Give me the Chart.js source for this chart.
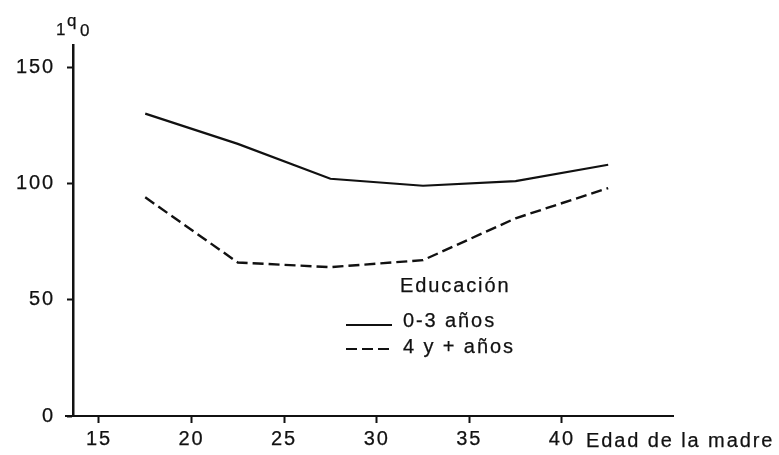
<!DOCTYPE html>
<html>
<head>
<meta charset="utf-8">
<script src="https://cdn.jsdelivr.net/npm/chart.js@4/dist/chart.umd.min.js"></script>
<style>
  html, body { margin: 0; padding: 0; background: #fff; }
  #wrap { width: 779px; height: 455px; }
</style>
</head>
<body>
<div id="wrap"><canvas id="c" width="779" height="455"></canvas></div>
<script>
// Mother's age group midpoints (years)
const ages = [17.5, 22.5, 27.5, 32.5, 37.5, 42.5];
// 1q0 by mother's education
const edu03 = [130, 117, 102, 99, 101, 108];
const edu4plus = [94, 66, 64, 67, 85, 98];
// Axis tick values
const xTicks = [15, 20, 25, 30, 35, 40];
const yTicks = [0, 50, 100, 150];

const seriesLabels = ['0-3 años', '4 y + años'];
const legendTitle = 'Educación';
const xTitle = 'Edad de la madre';

const INK = '#111';
const FONT = "'Liberation Sans', Arial, Helvetica, sans-serif";
const TRACK = '1.9px';
const STROKE = 0.25;
Chart.defaults.font.family = FONT;
Chart.defaults.font.size = 20;
Chart.defaults.color = INK;

// Wide tracking for all chart text
const spacing = {
  id: 'spacing',
  beforeLayout(chart) { chart.ctx.letterSpacing = TRACK; },
  beforeDraw(chart) { chart.ctx.letterSpacing = TRACK; }
};

function inkText(ctx, txt, x, y) {
  ctx.fillText(txt, x, y);
  ctx.strokeText(txt, x, y);
}

// Axis annotations and the hand-placed key
const annotations = {
  id: 'annotations',
  afterDraw(chart) {
    const ctx = chart.ctx;
    const ys = chart.scales.y;
    const y0 = ys.getPixelForValue(0);
    ctx.save();
    ctx.fillStyle = INK;
    ctx.strokeStyle = INK;

    // short overhang of the x axis to the left of the y axis
    ctx.lineWidth = 2;
    ctx.beginPath();
    ctx.moveTo(chart.chartArea.left - 8, y0);
    ctx.lineTo(chart.chartArea.left, y0);
    ctx.stroke();

    // y axis title: 1q0
    ctx.lineWidth = STROKE;
    ctx.letterSpacing = '0px';
    ctx.textBaseline = 'alphabetic';
    ctx.textAlign = 'left';
    ctx.font = '17px ' + FONT;
    inkText(ctx, '1', 56, 35);
    inkText(ctx, 'q', 67, 26);
    inkText(ctx, '0', 80, 36);

    // x axis title, right of the last tick
    ctx.letterSpacing = TRACK;
    ctx.font = '20px ' + FONT;
    inkText(ctx, xTitle, 586, 447);

    // key
    inkText(ctx, legendTitle, 400, 292);
    const ds = chart.data.datasets;
    const rows = [{ y: 325, ty: 327 }, { y: 349, ty: 353 }];
    rows.forEach((r, i) => {
      ctx.lineWidth = 2;
      ctx.setLineDash(ds[i].borderDash || []);
      ctx.beginPath();
      ctx.moveTo(346, r.y);
      ctx.lineTo(392, r.y);
      ctx.stroke();
      ctx.setLineDash([]);
      ctx.lineWidth = STROKE;
      inkText(ctx, ds[i].label, 403, r.ty);
    });
    ctx.restore();
  }
};

new Chart(document.getElementById('c'), {
  type: 'line',
  data: {
    datasets: [
      {
        label: seriesLabels[0],
        data: ages.map((a, i) => ({ x: a, y: edu03[i] })),
        borderColor: INK,
        borderWidth: 2.2,
        pointRadius: 0,
        tension: 0,
        fill: false
      },
      {
        label: seriesLabels[1],
        data: ages.map((a, i) => ({ x: a, y: edu4plus[i] })),
        borderColor: INK,
        borderWidth: 2.4,
        borderDash: [11, 5],
        pointRadius: 0,
        tension: 0,
        fill: false
      }
    ]
  },
  options: {
    responsive: false,
    animation: false,
    devicePixelRatio: 1,
    layout: { padding: { left: 0, top: 45, right: 106, bottom: 0 } },
    plugins: {
      legend: { display: false },
      tooltip: { enabled: false }
    },
    scales: {
      x: {
        type: 'linear',
        min: 13.6,
        max: 46,
        afterFit(s) { s.height = 39; },
        afterBuildTicks(s) { s.ticks = xTicks.map(v => ({ value: v })); },
        grid: {
          drawOnChartArea: false,
          drawTicks: true,
          tickLength: 7,
          tickColor: INK,
          tickWidth: 2
        },
        border: { display: true, color: INK, width: 2 },
        ticks: {
          padding: 4, maxRotation: 0, autoSkip: false, color: INK,
          textStrokeColor: INK, textStrokeWidth: STROKE
        }
      },
      y: {
        type: 'linear',
        min: 0,
        max: 159.5,
        afterFit(s) { s.width = 73; },
        afterBuildTicks(s) { s.ticks = yTicks.map(v => ({ value: v })); },
        grid: {
          drawOnChartArea: false,
          drawTicks: true,
          tickLength: 6,
          tickColor: INK,
          tickWidth: 2
        },
        border: { display: true, color: INK, width: 2.5 },
        ticks: {
          padding: 12, autoSkip: false, color: INK,
          textStrokeColor: INK, textStrokeWidth: STROKE
        }
      }
    }
  },
  plugins: [spacing, annotations]
});
</script>
</body>
</html>
